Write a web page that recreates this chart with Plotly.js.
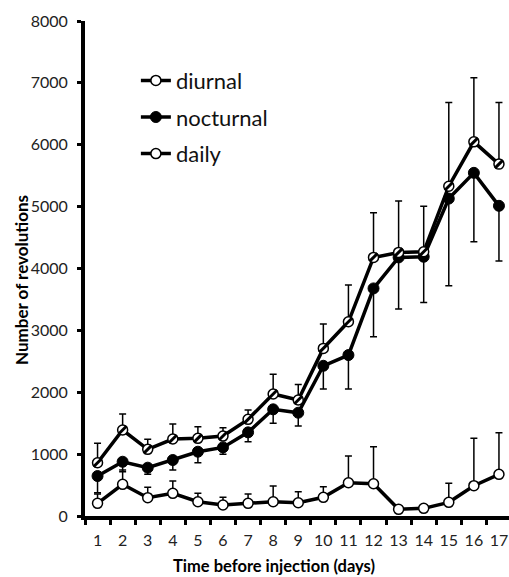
<!DOCTYPE html>
<html>
<head>
<meta charset="utf-8">
<script src="https://cdn.plot.ly/plotly-3.0.1.min.js"></script>
<style>html,body{margin:0;padding:0;overflow:hidden;background:#fff}</style>
</head>
<body>
<div id="chart" style="width:509px;height:577px"></div>
<script>
const days = [1,2,3,4,5,6,7,8,9,10,11,12,13,14,15,16,17];
const diurnal = [205,512,296,366,231,178,205,231,215,302,538,522,108,124,221,490,673];
const diurnalErr = [150,230,167,200,135,124,150,254,178,172,431,598,30,30,307,765,673];
const nocturnal = [646,877,781,905,1039,1109,1352,1724,1669,2428,2601,3678,4179,4190,5130,5546,5013];
const nocturnalErr = [270,160,108,160,178,110,150,227,215,376,550,780,835,740,1410,1114,893];
const daily = [860,1390,1077,1244,1255,1292,1562,1971,1874,2709,3139,4179,4260,4270,5330,6047,5687];
const dailyErr = [314,258,162,242,188,135,150,318,253,393,593,721,829,738,1353,1034,996];
const yTicks = [0,1000,2000,3000,4000,5000,6000,7000,8000];
const xTitle = 'Time before injection (days)';
const yTitle = 'Number of revolutions';
const zeros = days.map(() => 0);

const errStyle = {color:'#000', thickness:1.5, width:3.5};
const lineStyle = {color:'#000', width:3.5};

const traces = [
  {x:days, y:diurnal, name:'diurnal', mode:'lines+markers', legendgroup:'a',
   line:lineStyle,
   marker:{symbol:'circle', size:10, color:'#fff', line:{color:'#000', width:1.5}},
   error_y:Object.assign({type:'data', symmetric:false, array:diurnalErr, arrayminus:zeros}, errStyle)},
  {x:days, y:nocturnal, name:'nocturnal', mode:'lines+markers', legendgroup:'b',
   line:lineStyle,
   marker:{symbol:'circle', size:11, color:'#000', line:{color:'#000', width:1}},
   error_y:Object.assign({type:'data', symmetric:false, array:zeros, arrayminus:nocturnalErr}, errStyle)},
  {x:days, y:daily, name:'daily', mode:'lines+markers', legendgroup:'c',
   line:lineStyle,
   marker:{symbol:'circle', size:10, color:'#fff', line:{color:'#000', width:1.5}},
   error_y:Object.assign({type:'data', symmetric:false, array:dailyErr, arrayminus:zeros}, errStyle)},
  {x:days, y:daily, mode:'markers', showlegend:false, hoverinfo:'skip', legendgroup:'c',
   marker:{symbol:'line-ne', size:8, color:'#000', line:{color:'#000', width:3}}}
];

const layout = {
  width:509, height:577,
  margin:{l:85, r:0, t:21, b:61},
  paper_bgcolor:'#fff', plot_bgcolor:'#fff',
  font:{family:'Lato, sans-serif', color:'#222', size:16},
  showlegend:true,
  legend:{x:0.12, y:0.922, xanchor:'left', yanchor:'top', bgcolor:'rgba(0,0,0,0)',
          font:{size:22, color:'#111'}, tracegroupgap:5, traceorder:'grouped'},
  xaxis:{range:[0.5,17.4], tickvals:days, ticktext:days.map(String), ticks:'',
         showgrid:false, zeroline:false, showline:true, linecolor:'#000', linewidth:4,
         ticklabelstandoff:7, ticklabeloverflow:'allow', tickfont:{size:16, color:'#222'},
         minor:{tickvals:days.map(d=>d-0.5), ticks:'outside', ticklen:5, tickwidth:3, tickcolor:'#000', showgrid:false},
         automargin:false, fixedrange:true},
  yaxis:{range:[0,8000], tickvals:yTicks, ticks:'outside', ticklen:4, tickwidth:3, tickcolor:'#000',
         showgrid:false, zeroline:false, showline:true, linecolor:'#000', linewidth:4,
         ticklabelstandoff:6, tickfont:{size:16, color:'#222'},
         automargin:false, fixedrange:true},
  annotations:[
    {text:'<b>'+xTitle+'</b>', xref:'paper', yref:'paper', x:(274-85)/424, y:(516-566)/495,
     xanchor:'center', yanchor:'middle', showarrow:false, font:{size:16.5, color:'#000'}},
    {text:'<b>'+yTitle+'</b>', xref:'paper', yref:'paper', x:(21-85)/424, y:(516-280)/495,
     xanchor:'center', yanchor:'middle', textangle:-90, showarrow:false, font:{size:17, color:'#000'}}
  ]
};

Plotly.newPlot('chart', traces, layout, {displayModeBar:false, staticPlot:true});
</script>
</body>
</html>
